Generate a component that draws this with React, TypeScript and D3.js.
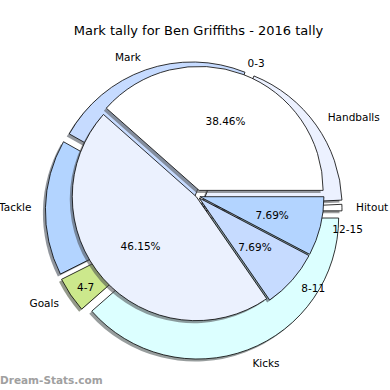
import React from "react";
import * as d3 from "d3";

const W = 390;
const H = 390;

const titleText = "Mark tally for Ben Griffiths - 2016 tally";
const watermark = "Dream-Stats.com";

const outerLabels = ["Hitout", "Handballs", "Mark", "Tackle", "Goals", "Kicks"];
const outerValues = [2, 49, 62, 42, 11, 104];
const outerColors = ["#ffffff", "#ecf1ff", "#c6dbff", "#b3d4ff", "#cce88c", "#dcffff"];
const outerExplode = [6, 7.5, 8.5, 8.6, 9, 7.5];

const innerLabels = ["0-3", "4-7", "8-11", "12-15"];
const innerValues = [5, 6, 1, 1];
const innerColors = ["#ffffff", "#ebf1fe", "#c6dbff", "#b3d4ff"];
const innerExplode = [6, 1, 3, 3];

const OUTER = { cx: 195, cy: 211, r: 141 };
const INNER = { cx: 197, cy: 196, r: 124 };
const SHADOW = { dx: -2.5, dy: 2.5 };
const FONT = "DejaVu Sans, sans-serif";

type Slice = {
  path: string;
  ox: number;
  oy: number;
  lx: number;
  ly: number;
  px: number;
  py: number;
  anchor: string;
  color: string;
  label: string;
  pct: string;
};

function layout(
  values: number[],
  labels: string[],
  colors: string[],
  explode: number[],
  geo: { cx: number; cy: number; r: number }
): Slice[] {
  const pie = d3
    .pie<number>()
    .sort(null)
    .value((d) => d)
    .startAngle(Math.PI / 2)
    .endAngle(Math.PI / 2 - 2 * Math.PI);
  const arc = d3.arc<d3.PieArcDatum<number>>().innerRadius(0).outerRadius(geo.r);
  const total = d3.sum(values);
  return pie(values).map((a, i) => {
    const m = (a.startAngle + a.endAngle) / 2;
    const ux = Math.sin(m);
    const uy = -Math.cos(m);
    const ox = geo.cx + explode[i] * ux;
    const oy = geo.cy + explode[i] * uy;
    const lx = ox + 1.1 * geo.r * ux;
    const ly = oy + 1.1 * geo.r * uy;
    return {
      path: arc(a) || "",
      ox,
      oy,
      lx,
      ly,
      px: ox + 0.6 * geo.r * ux,
      py: oy + 0.6 * geo.r * uy,
      anchor: ux > 0 ? "start" : "end",
      color: colors[i],
      label: labels[i],
      pct: ((values[i] / total) * 100).toFixed(2) + "%",
    };
  });
}

function shade(c: string) {
  const col = d3.rgb(c);
  return d3.rgb(col.r * 0.3, col.g * 0.3, col.b * 0.3).formatHex();
}

export default function App() {
  const outer = layout(outerValues, outerLabels, outerColors, outerExplode, OUTER);
  const inner = layout(innerValues, innerLabels, innerColors, innerExplode, INNER);

  const drawShadows = (sl: Slice[], key: string) =>
    sl.map((s, i) => (
      <path
        key={key + "s" + i}
        d={s.path}
        transform={`translate(${s.ox + SHADOW.dx},${s.oy + SHADOW.dy})`}
        fill={shade(s.color)}
        fillOpacity={0.55}
      />
    ));
  const drawWedges = (sl: Slice[], key: string) =>
    sl.map((s, i) => (
      <path
        key={key + "w" + i}
        d={s.path}
        transform={`translate(${s.ox},${s.oy})`}
        fill={s.color}
        stroke="#000"
        strokeWidth={0.8}
        strokeLinejoin="round"
      />
    ));

  return (
    <svg
      width={W}
      height={H}
      viewBox={`0 0 ${W} ${H}`}
      style={{ position: "absolute", left: 0, top: 0, background: "#fff" }}
      fontFamily={FONT}
    >
      <rect x={0} y={0} width={W} height={H} fill="#fff" />
      <text x={198.5} y={30} textAnchor="middle" dominantBaseline="central" fontSize={13} fill="#000">
        {titleText}
      </text>
      {drawShadows(outer, "o")}
      {drawWedges(outer, "o")}
      {drawShadows(inner, "i")}
      {drawWedges(inner, "i")}
      {outer.map((s, i) => (
        <text key={"ol" + i} x={s.lx} y={s.ly} textAnchor={s.anchor} dominantBaseline="central" fontSize={10.5} fill="#000">
          {s.label}
        </text>
      ))}
      {inner.map((s, i) => (
        <text key={"il" + i} x={s.lx} y={s.ly} textAnchor={s.anchor} dominantBaseline="central" fontSize={10.5} fill="#000">
          {s.label}
        </text>
      ))}
      {inner.map((s, i) => (
        <text key={"ip" + i} x={s.px} y={s.py} textAnchor="middle" dominantBaseline="central" fontSize={10.5} fill="#000">
          {s.pct}
        </text>
      ))}
      <text x={0} y={380} dominantBaseline="central" fontSize={10.5} fontWeight="bold" fill="#a0a0a0">
        {watermark}
      </text>
    </svg>
  );
}
